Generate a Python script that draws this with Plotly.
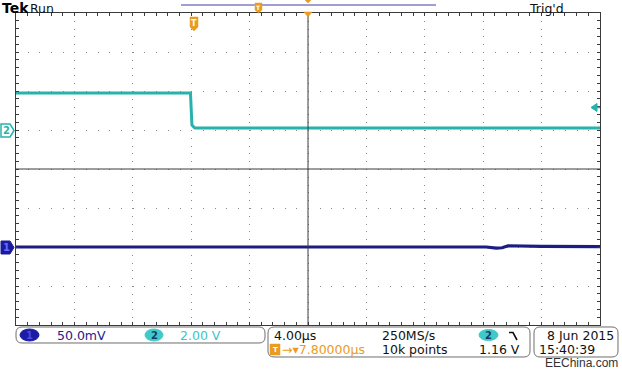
import plotly.graph_objects as go

# ---------------- data ----------------
# time in microseconds relative to the trigger point
ch2_time_us = [-12.0, -0.05, 0.05, 0.25, 28.0]
ch2_volts = [1.9, 1.9, 0.25, 0.1, 0.1]

ch1_time_us = [-12.0, 5.0, 12.0, 20.2, 20.9, 21.3, 21.7, 24.0, 28.0]
ch1_mv = [0.0, 0.3, -0.2, 0.0, -1.4, -1.0, 1.6, 0.8, 0.6]

ch1_scale = "50.0mV"
ch2_scale = "2.00 V"
timebase = "4.00µs"
sample_rate = "250MS/s"
record_len = "10k points"
trig_level = "1.16 V"
h_delay = "7.80000µs"
date_str = "8 Jun 2015"
time_str = "15:40:39"

# ---------------- geometry helpers (layout only) ----------------
W, H = 622, 373
L, R, T, B = 16, 600, 13, 325


def px(x):
    return (x - L) / (R - L)


def py(y):
    return 1 - (y - T) / (B - T)


def path(points, close=True):
    s = "M " + " L ".join(f"{px(x):.5f},{py(y):.5f}" for x, y in points)
    return s + (" Z" if close else "")


def rrect(x0, y0, x1, y1, r):
    P = lambda x, y: f"{px(x):.5f},{py(y):.5f}"
    return (f"M {P(x0 + r, y0)} L {P(x1 - r, y0)} Q {P(x1, y0)} {P(x1, y0 + r)} "
            f"L {P(x1, y1 - r)} Q {P(x1, y1)} {P(x1 - r, y1)} L {P(x0 + r, y1)} "
            f"Q {P(x0, y1)} {P(x0, y1 - r)} L {P(x0, y0 + r)} Q {P(x0, y0)} {P(x0 + r, y0)} Z")


CYAN = "#27b2ab"
CYAN_TXT = "#3cc6c6"
BLUE = "#1c1c82"
BLUE_TXT = "#22228e"
ORANGE = "#e89c22"
FRAME = "#3a3a3a"
FONT = "DejaVu Sans"

fig = go.Figure()
fig.add_trace(go.Scatter(x=ch2_time_us, y=ch2_volts, mode="lines",
                         line=dict(color=CYAN, width=3), xaxis="x", yaxis="y",
                         hoverinfo="skip", showlegend=False))
fig.add_trace(go.Scatter(x=ch1_time_us, y=ch1_mv, mode="lines",
                         line=dict(color=BLUE, width=3.2), xaxis="x", yaxis="y2",
                         hoverinfo="skip", showlegend=False))

xr = [-12, 28]
yr = [-10, 6]
common_tick = dict(showticklabels=False, zeroline=False)

shapes = []
ann = []


def text(x, y, s, color="#111111", size=12.5, anchor="left", bold=False, family=FONT):
    if bold:
        s = f"<b>{s}</b>"
    ann.append(dict(x=px(x), y=py(y), xref="paper", yref="paper", text=s, showarrow=False,
                    xanchor=anchor, yanchor="middle",
                    font=dict(family=family, size=size, color=color)))


# centre cross lines
shapes.append(dict(type="line", xref="paper", yref="paper", x0=0.5, x1=0.5, y0=0, y1=1,
                   line=dict(color=FRAME, width=1)))
shapes.append(dict(type="line", xref="paper", yref="paper", x0=0, x1=1, y0=0.5, y1=0.5,
                   line=dict(color=FRAME, width=1)))

# top bar
shapes.append(dict(type="line", xref="paper", yref="paper", x0=px(181), x1=px(436),
                   y0=py(5), y1=py(5), line=dict(color="#7f7fc6", width=1.5)))
# trigger markers
for pts in ([(190, 17), (198, 17), (198, 27), (194, 31), (190, 27)],
            [(255, 3), (262, 3), (262, 10), (258.5, 13), (255, 10)]):
    shapes.append(dict(type="path", xref="paper", yref="paper", path=path(pts),
                       fillcolor=ORANGE, line=dict(color=ORANGE, width=0.5)))
text(194, 23, "T", color="white", size=8, anchor="center", bold=True)
text(258.5, 7.5, "T", color="white", size=6, anchor="center", bold=True)
shapes.append(dict(type="path", xref="paper", yref="paper",
                   path=path([(304, 12), (312, 12), (308, 17)]),
                   fillcolor=ORANGE, line=dict(color=ORANGE, width=0.5)))
shapes.append(dict(type="path", xref="paper", yref="paper",
                   path=path([(305, 0), (311, 0), (308, 3)]),
                   fillcolor=ORANGE, line=dict(color=ORANGE, width=0.5)))

# channel ground markers
shapes.append(dict(type="path", xref="paper", yref="paper",
                   path=path([(1, 124), (10, 124), (14, 130.5), (10, 137), (1, 137)]),
                   fillcolor="white", line=dict(color=CYAN, width=1.5)))
text(6.5, 130.5, "2", color=CYAN, size=10, anchor="center", bold=True)
shapes.append(dict(type="path", xref="paper", yref="paper",
                   path=path([(1, 241), (10, 241), (14, 247.5), (10, 254), (1, 254)]),
                   fillcolor="#1a1a9e", line=dict(color="#1a1a9e", width=1)))
text(6.5, 247.5, "1", color="#6a6aff", size=10, anchor="center", bold=True)
# trigger level arrow on right
shapes.append(dict(type="path", xref="paper", yref="paper",
                   path=path([(591, 107.5), (597, 103.5), (597, 111.5)]),
                   fillcolor=CYAN, line=dict(color=CYAN, width=1)))
shapes.append(dict(type="line", xref="paper", yref="paper", x0=px(595), x1=px(600),
                   y0=py(107.5), y1=py(107.5), line=dict(color=CYAN, width=1.5)))

# header texts
text(0, 8, "Tek", color="#000000", size=14, bold=True)
text(28, 8, "Run", color="#111111", size=12.5)
text(527, 8, "Trig'd", color="#111111", size=12.5)

# status boxes
for (x0, y0, x1, y1) in ((16, 327, 265, 343), (268, 327, 530, 357), (534, 327, 618, 357)):
    shapes.append(dict(type="path", xref="paper", yref="paper", path=rrect(x0, y0, x1, y1, 6),
                       fillcolor="white", line=dict(color="#6e6e6e", width=1)))

shapes.append(dict(type="circle", xref="paper", yref="paper", x0=px(20), x1=px(39),
                   y0=py(341), y1=py(329), fillcolor="#1b1ba6", line=dict(color="#1b1ba6", width=1)))
text(29.5, 335, "1", color="#4a4ae0", size=10, anchor="center", bold=True)
text(55, 335, ch1_scale, color=BLUE_TXT, size=12.5)
shapes.append(dict(type="circle", xref="paper", yref="paper", x0=px(145), x1=px(163),
                   y0=py(341), y1=py(329), fillcolor="#3fcaca", line=dict(color="#3fcaca", width=1)))
text(154, 335, "2", color="#1a3a66", size=10, anchor="center", bold=True)
text(178, 335, ch2_scale, color=CYAN_TXT, size=12.5)

text(272, 335, timebase, color="#111111", size=12.5)
text(380, 335, sample_rate, color="#111111", size=12.5)
shapes.append(dict(type="circle", xref="paper", yref="paper", x0=px(479), x1=px(498),
                   y0=py(340.5), y1=py(329.5), fillcolor="#3fcaca", line=dict(color="#3fcaca", width=1)))
text(488.5, 335, "2", color="#1a3a66", size=10, anchor="center", bold=True)
shapes.append(dict(type="path", xref="paper", yref="paper",
                   path=path([(509, 332.5), (513, 332.5), (517, 340)], close=False),
                   line=dict(color="#111111", width=1.6)))

shapes.append(dict(type="rect", xref="paper", yref="paper", x0=px(270), x1=px(280),
                   y0=py(355), y1=py(344), fillcolor=ORANGE, line=dict(color=ORANGE, width=0.5)))
text(275, 349.5, "T", color="white", size=7, anchor="center", bold=True)
text(280, 349.5, "→▾" + h_delay, color=ORANGE, size=12.5)
text(380, 349.5, record_len, color="#111111", size=12.5)
text(522, 349.5, trig_level, color="#111111", size=12.5, anchor="right")

text(545, 335, date_str, color="#111111", size=12.5)
text(537, 349.5, time_str, color="#111111", size=12.5)
text(543, 363, "EEChina.com", color="#333333", size=12, family="Liberation Sans")

fig.update_layout(
    width=W, height=H,
    margin=dict(l=L, r=W - R, t=T, b=H - B),
    paper_bgcolor="white", plot_bgcolor="white",
    showlegend=False,
    xaxis=dict(range=xr, tick0=-12, dtick=4, showgrid=True, gridcolor="#8a8a8a", gridwidth=1,
               griddash="1px,6.8px", showline=True, linecolor=FRAME, linewidth=1, mirror="ticks",
               ticks="inside", ticklen=3, tickcolor=FRAME,
               minor=dict(tick0=-12, dtick=0.8, ticks="inside", ticklen=3, tickcolor=FRAME,
                          showgrid=False),
               **common_tick),
    yaxis=dict(range=yr, tick0=-10, dtick=2, showgrid=True, gridcolor="#8a8a8a", gridwidth=1,
               griddash="1px,10.68px", showline=True, linecolor=FRAME, linewidth=1, mirror="ticks",
               ticks="inside", ticklen=3, tickcolor=FRAME,
               minor=dict(tick0=-10, dtick=0.4, ticks="inside", ticklen=3, tickcolor=FRAME,
                          showgrid=False),
               **common_tick),
    yaxis2=dict(range=[-100, 300], overlaying="y", visible=False),
    # centre-line tick marks
    xaxis2=dict(range=xr, overlaying="x", anchor="free", position=0.5, tick0=-12, dtick=0.8,
                ticks="inside", ticklen=2.5, tickcolor=FRAME, showgrid=False, showline=False,
                **common_tick),
    xaxis3=dict(range=xr, overlaying="x", anchor="free", position=0.5, tick0=-12, dtick=0.8,
                ticks="outside", ticklen=2.5, tickcolor=FRAME, showgrid=False, showline=False,
                **common_tick),
    yaxis3=dict(range=yr, overlaying="y", anchor="free", position=0.5, tick0=-10, dtick=0.4,
                ticks="inside", ticklen=2.5, tickcolor=FRAME, showgrid=False, showline=False,
                **common_tick),
    yaxis4=dict(range=yr, overlaying="y", anchor="free", position=0.5, tick0=-10, dtick=0.4,
                ticks="outside", ticklen=2.5, tickcolor=FRAME, showgrid=False, showline=False,
                **common_tick),
    shapes=shapes,
    annotations=ann,
)

fig.write_html("out.html", config={"displayModeBar": False},
               post_script="document.body.style.margin='0';")
